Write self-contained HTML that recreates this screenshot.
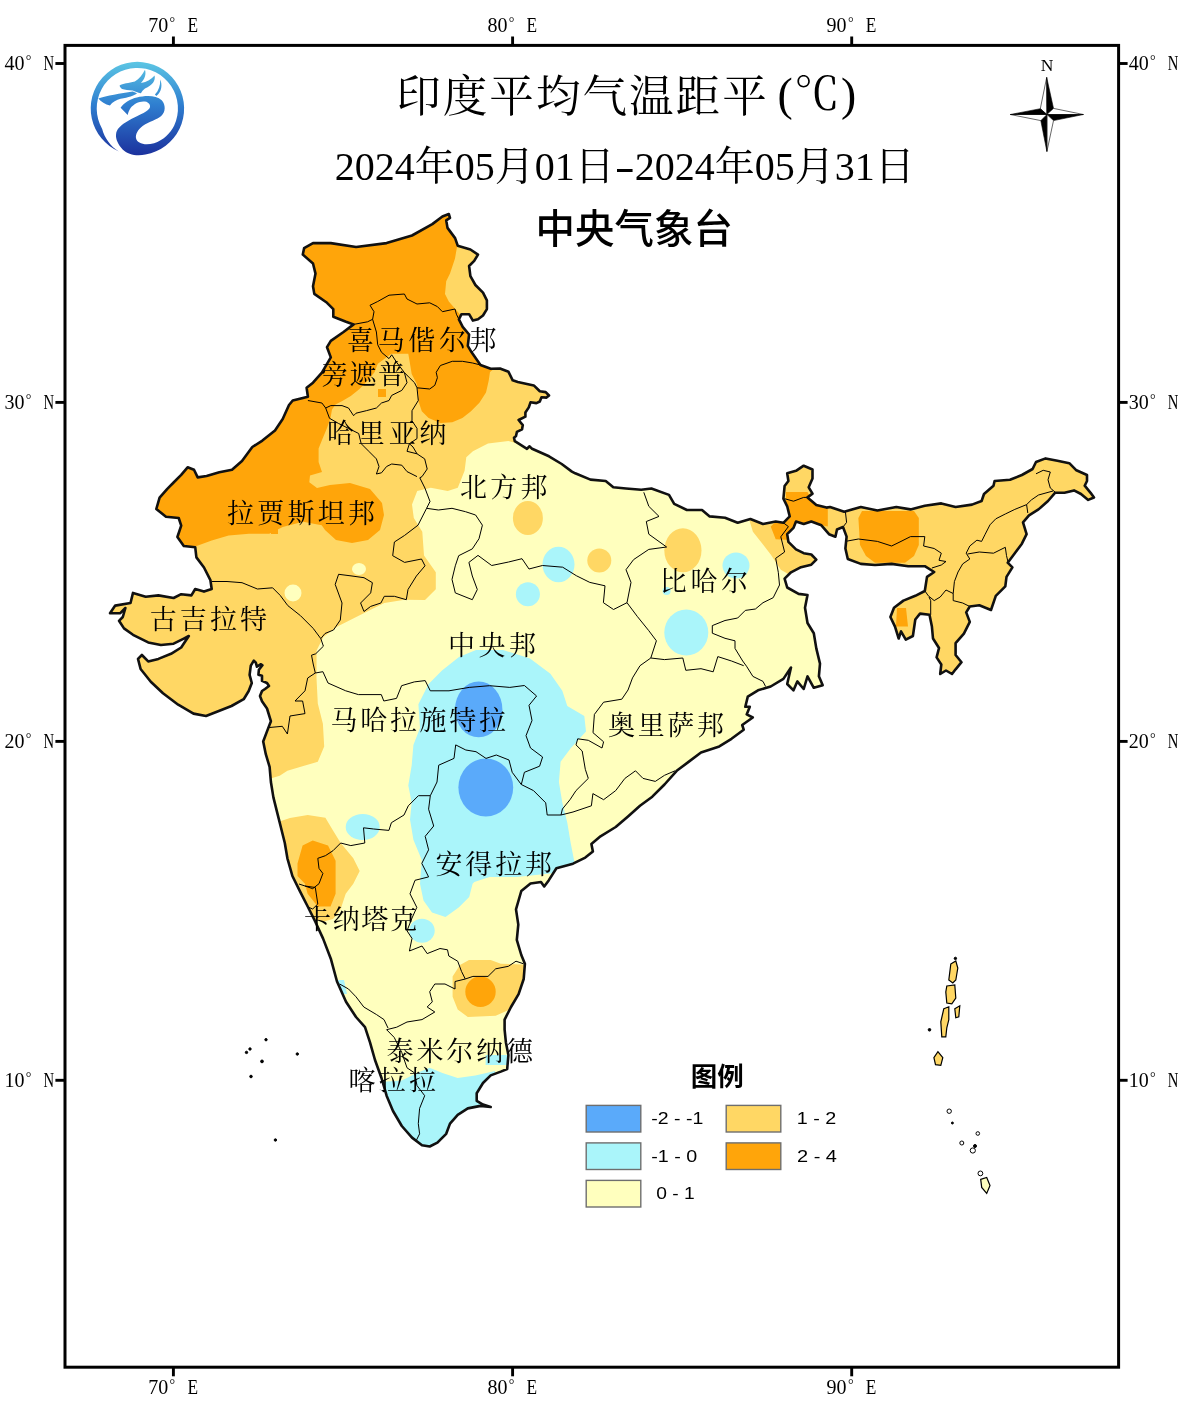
<!DOCTYPE html>
<html lang="zh"><head><meta charset="utf-8"><title>印度平均气温距平</title>
<style>html,body{margin:0;padding:0;background:#fff}svg{display:block}text{white-space:pre}</style></head><body>
<svg width="1182" height="1404" viewBox="0 0 1182 1404">
<rect width="1182" height="1404" fill="#fff"/>
<defs><clipPath id="ind"><path d="M448.8 214.0 L450.0 217.8 L446.2 220.3 L447.5 227.9 L455.1 238.1 L457.7 245.7 L470.4 249.5 L478.0 254.6 L474.2 260.9 L469.1 266.0 L470.4 276.1 L475.4 285.0 L483.0 292.6 L486.9 300.3 L486.9 309.1 L483.0 315.5 L478.0 319.3 L472.9 320.6 L469.1 314.2 L461.5 314.2 L458.9 319.3 L462.7 326.9 L469.1 334.5 L467.8 345.9 L471.6 352.3 L480.5 365.0 L490.7 368.8 L500.0 368.5 L508.5 371.8 L512.7 380.3 L517.8 382.0 L533.8 385.4 L539.8 391.3 L545.7 392.1 L549.0 395.5 L546.5 397.6 L541.5 397.2 L539.8 401.5 L536.4 403.1 L530.5 402.3 L528.8 407.4 L525.4 412.5 L525.4 416.7 L518.6 420.0 L522.8 425.1 L522.0 429.4 L516.9 431.9 L516.0 436.1 L514.0 437.8 L514.8 441.2 L527.0 448.8 L529.6 446.3 L532.1 448.8 L549.0 456.3 L561.7 464.0 L571.9 471.6 L575.2 473.3 L590.5 479.6 L605.7 481.0 L613.3 487.3 L626.0 488.5 L641.2 489.8 L651.4 488.5 L669.0 494.9 L674.2 503.8 L686.9 510.0 L702.0 510.0 L709.7 516.4 L725.0 517.7 L737.7 522.8 L750.4 519.0 L763.0 524.0 L775.7 521.5 L783.4 522.8 L789.7 516.4 L787.2 506.3 L783.4 498.7 L784.6 486.0 L788.4 481.0 L787.2 473.3 L796.0 470.8 L803.7 465.7 L812.5 469.5 L812.5 478.4 L808.7 487.3 L812.5 493.6 L807.5 497.4 L816.3 505.0 L826.5 507.6 L830.0 507.0 L844.2 511.7 L860.8 507.0 L877.4 510.5 L896.3 507.0 L910.5 509.4 L924.8 505.8 L941.3 503.4 L955.6 507.0 L972.0 504.6 L981.6 501.0 L984.0 494.0 L993.5 485.7 L994.6 481.0 L1010.0 479.8 L1021.9 475.0 L1032.6 469.0 L1036.0 462.0 L1045.6 458.4 L1057.4 460.8 L1069.3 463.2 L1076.4 470.3 L1087.0 475.0 L1087.0 481.0 L1084.7 485.7 L1090.6 492.8 L1094.0 497.5 L1088.2 499.9 L1081.0 494.0 L1074.0 490.4 L1064.5 492.8 L1055.0 492.8 L1048.0 501.0 L1038.5 509.4 L1029.0 515.3 L1023.0 522.4 L1026.6 534.2 L1021.9 543.7 L1014.8 553.2 L1007.7 562.7 L1012.4 567.4 L1006.5 576.9 L1005.3 586.4 L995.8 595.8 L991.0 610.0 L979.3 605.3 L969.8 606.5 L966.2 612.4 L969.8 621.9 L963.9 633.7 L955.6 643.2 L955.6 655.0 L961.5 662.2 L955.6 669.3 L952.0 674.0 L946.0 670.5 L940.2 674.0 L941.3 664.5 L936.6 657.4 L939.0 648.0 L933.0 638.5 L931.9 626.6 L929.5 614.8 L920.0 613.6 L915.3 619.5 L912.9 636.0 L905.8 639.7 L901.0 631.4 L898.7 638.5 L895.0 626.6 L890.4 617.0 L894.0 607.7 L903.4 600.6 L915.3 595.8 L924.8 591.0 L927.0 576.9 L934.2 572.0 L924.8 566.2 L908.2 566.2 L891.6 563.9 L875.0 565.0 L860.8 563.9 L847.8 559.0 L845.4 548.5 L846.6 536.6 L843.0 527.0 L837.0 529.5 L835.4 536.8 L829.0 534.2 L821.4 525.3 L811.3 521.5 L803.7 524.0 L796.0 521.5 L793.5 527.9 L787.2 534.2 L788.4 541.8 L796.0 549.4 L803.7 553.2 L811.3 554.5 L816.3 559.6 L811.3 564.7 L801.0 567.2 L791.0 572.3 L784.6 578.6 L787.2 587.5 L798.6 593.9 L807.5 595.0 L805.0 607.8 L807.5 623.0 L813.8 633.2 L816.3 648.4 L820.0 663.6 L818.9 676.3 L822.7 685.2 L813.8 687.8 L807.5 676.3 L803.7 689.0 L797.3 681.4 L793.5 690.3 L787.2 684.0 L791.0 667.5 L783.4 678.9 L770.7 686.5 L758.0 690.3 L747.8 696.6 L745.3 706.8 L749.8 706.8 L746.7 714.4 L752.8 717.5 L742.2 725.0 L743.7 729.7 L731.5 738.8 L719.3 746.4 L701.0 752.5 L688.9 761.6 L676.7 770.8 L664.5 784.5 L652.3 796.7 L640.0 805.8 L628.0 816.5 L615.7 827.0 L600.5 836.3 L591.4 843.9 L592.9 851.5 L585.3 857.6 L573.0 863.7 L556.4 868.2 L548.7 880.4 L544.2 886.5 L541.0 882.0 L530.5 883.5 L521.3 891.0 L516.0 909.4 L518.3 924.6 L516.8 939.8 L521.3 955.0 L524.9 963.8 L523.7 979.0 L518.6 994.2 L511.0 1007.0 L504.6 1019.6 L504.6 1029.7 L505.9 1042.4 L508.4 1055.0 L507.2 1069.0 L500.8 1071.6 L490.7 1075.4 L483.0 1083.0 L476.7 1093.2 L476.7 1100.8 L483.0 1104.6 L490.7 1107.0 L480.5 1105.9 L467.8 1108.4 L457.7 1114.8 L450.0 1123.6 L446.2 1133.8 L437.4 1142.7 L429.7 1146.5 L422.0 1145.2 L412.0 1137.6 L401.8 1126.0 L393.0 1111.0 L386.6 1095.7 L381.5 1078.0 L375.0 1060.0 L370.0 1042.4 L365.0 1027.2 L356.0 1017.0 L346.0 1001.8 L337.0 981.5 L330.8 958.7 L323.0 938.4 L315.3 921.7 L307.7 906.5 L300.0 891.3 L292.4 876.0 L287.4 858.3 L284.8 843.0 L281.0 827.8 L277.2 812.6 L273.4 797.4 L270.9 782.0 L269.6 766.9 L265.8 754.2 L263.2 741.5 L267.0 731.4 L270.9 721.2 L267.0 708.5 L262.0 701.2 L260.0 696.0 L262.0 691.0 L265.0 689.0 L269.0 686.0 L267.0 683.0 L262.0 680.9 L262.0 675.8 L258.4 674.8 L258.9 669.7 L262.4 665.2 L261.0 664.2 L256.9 666.7 L255.8 662.6 L253.8 660.6 L250.8 665.7 L249.6 674.8 L251.8 683.0 L248.7 691.0 L243.7 699.2 L231.5 706.0 L218.8 711.0 L206.0 716.0 L193.5 713.6 L178.2 704.7 L163.0 693.3 L150.8 681.7 L140.6 669.0 L138.0 658.9 L141.9 655.0 L148.2 661.4 L158.4 658.9 L171.0 653.8 L181.2 647.5 L188.8 636.0 L183.8 638.6 L173.6 643.7 L160.9 645.0 L148.2 642.4 L133.0 634.8 L124.0 628.4 L119.0 620.8 L122.8 617.0 L125.4 608.0 L120.3 613.2 L110.0 613.2 L115.2 605.6 L130.5 603.0 L133.0 592.9 L145.7 596.7 L158.4 595.4 L173.6 598.0 L181.2 594.2 L191.4 595.4 L195.2 589.0 L204.0 591.6 L211.7 589.0 L210.4 580.2 L204.0 567.5 L196.4 557.4 L195.2 547.2 L183.8 546.0 L177.4 537.0 L181.2 525.6 L178.7 518.0 L166.0 516.8 L156.3 509.0 L159.6 497.7 L167.3 488.8 L173.6 482.5 L181.2 474.9 L187.6 467.3 L194.0 469.8 L197.7 477.4 L206.6 476.0 L219.3 472.3 L232.0 469.8 L242.0 461.0 L252.3 447.0 L262.4 440.6 L275.0 430.5 L282.7 419.0 L289.0 405.0 L292.7 400.5 L307.9 396.7 L306.6 387.8 L313.0 382.7 L321.9 372.6 L330.8 357.4 L327.0 347.2 L330.8 340.9 L343.5 332.0 L353.6 324.4 L346.0 321.8 L333.3 316.8 L333.3 309.1 L327.0 302.8 L314.3 293.9 L313.0 286.3 L315.5 273.6 L313.0 263.5 L302.8 254.6 L304.1 248.2 L313.0 243.1 L330.8 243.1 L356.1 247.0 L386.6 243.1 L412.0 235.5 L432.3 224.1 L442.4 216.5Z"/>
<path d="M950.8 964.0 L955.8 961.0 L957.8 968.0 L955.8 980.0 L952.8 983.0 L948.8 980.0Z"/>
<path d="M946.8 986.0 L954.8 985.0 L955.8 998.0 L951.8 1003.8 L946.8 1003.0 L945.8 992.0Z"/>
<path d="M943.8 1008.8 L948.8 1006.8 L948.8 1019.8 L946.8 1027.8 L945.8 1036.8 L941.8 1036.8 L940.8 1021.8Z"/>
<path d="M954.8 1008.8 L959.8 1005.8 L958.8 1016.8 L955.8 1017.8Z"/>
<path d="M937.9 1051.7 L942.8 1057.7 L940.8 1065.3 L935.5 1064.7 L933.9 1057.7Z"/>
<path d="M980.7 1179.4 L986.7 1177.4 L990.0 1185.4 L986.7 1193.4 L981.7 1187.4Z"/>
</clipPath>
<linearGradient id="lg" gradientUnits="userSpaceOnUse" x1="0" y1="115" x2="0" y2="1050"><stop offset="0" stop-color="#5cc6e4"/><stop offset="0.45" stop-color="#2f7fd0"/><stop offset="1" stop-color="#1b2f9c"/></linearGradient>
</defs>
<g clip-path="url(#ind)">
<rect x="100" y="200" width="1010" height="1010" fill="#ffffbe"/>
<path d="M560.0 420.0 L517.3 443.6 L508.4 441.0 L488.0 443.6 L472.9 451.3 L466.3 457.2 L464.6 470.8 L457.8 487.7 L447.7 491.0 L430.8 487.7 L417.2 491.0 L412.0 504.6 L413.8 518.0 L422.3 531.7 L424.0 555.4 L435.8 572.3 L435.8 589.2 L425.0 600.0 L404.6 599.7 L384.3 603.0 L370.7 609.8 L357.2 616.6 L336.9 626.7 L323.4 636.9 L316.6 650.4 L316.5 678.0 L317.8 703.5 L322.9 723.8 L324.2 746.6 L317.8 761.8 L305.0 765.6 L287.4 770.7 L279.7 775.8 L265.0 780.0 L100.0 780.0 L100.0 200.0 L560.0 200.0Z" fill="#ffd764"/>
<path d="M275.0 823.0 L290.0 818.0 L307.7 815.0 L325.4 817.7 L333.0 830.4 L340.7 843.0 L353.3 858.3 L359.7 871.0 L353.3 883.7 L345.7 893.8 L340.7 909.0 L333.0 919.0 L322.9 921.7 L300.0 915.0 L270.0 830.0Z" fill="#ffd764"/>
<path d="M469.0 960.0 L490.7 960.0 L500.8 963.8 L535.0 965.0 L535.0 1005.0 L509.7 1009.4 L495.7 1015.8 L467.8 1017.0 L457.7 1009.4 L452.6 996.8 L452.6 976.4 L460.0 965.0Z" fill="#ffd764"/>
<path d="M747.8 515.0 L752.9 531.7 L763.0 544.4 L770.7 554.5 L775.7 562.0 L780.8 569.7 L790.0 575.0 L800.0 590.0 L840.0 590.0 L840.0 700.0 L1110.0 700.0 L1110.0 440.0 L780.0 440.0Z" fill="#ffd764"/>
<ellipse cx="527.9" cy="518.0" rx="15.0" ry="17.0" fill="#ffd764"/>
<ellipse cx="599.3" cy="560.4" rx="12.0" ry="12.0" fill="#ffd764"/>
<ellipse cx="682.9" cy="550.3" rx="18.6" ry="22.0" fill="#ffd764"/>
<ellipse cx="293.0" cy="593.0" rx="8.5" ry="8.5" fill="#ffffbe"/>
<ellipse cx="359.0" cy="569.0" rx="7.0" ry="6.0" fill="#ffffbe"/>
<path d="M457.7 243.0 L455.0 258.4 L450.0 273.6 L446.2 281.2 L445.0 293.9 L448.8 301.5 L457.7 311.7 L461.5 316.8 L480.0 335.0 L505.0 360.0 L490.0 372.0 L488.7 380.8 L486.0 392.6 L479.4 402.8 L471.0 411.2 L462.4 418.0 L452.3 422.2 L440.4 423.0 L428.6 418.0 L421.8 411.2 L418.4 401.0 L418.4 394.3 L416.8 384.0 L411.7 374.0 L410.0 363.8 L408.3 353.7 L391.4 353.7 L384.6 358.8 L377.8 363.8 L374.5 372.3 L367.7 380.8 L359.2 389.2 L350.8 396.0 L342.3 401.0 L335.5 404.5 L332.0 409.5 L330.5 418.0 L327.0 428.0 L322.0 440.0 L318.6 448.4 L318.6 462.0 L322.0 472.0 L310.0 475.5 L309.3 482.3 L317.0 488.0 L330.0 485.0 L350.0 483.0 L370.0 489.0 L382.0 503.0 L384.0 515.0 L380.0 530.0 L368.0 540.0 L352.0 543.0 L336.0 540.0 L325.0 530.0 L321.7 525.2 L303.0 521.8 L282.7 527.0 L269.2 533.7 L249.0 533.7 L228.6 535.4 L211.7 540.4 L198.0 545.5 L150.0 560.0 L130.0 480.0 L250.0 380.0 L280.0 230.0 L450.0 200.0Z" fill="#ffa50a"/>
<path d="M378.0 389.0 L386.0 389.0 L386.0 397.0 L378.0 397.0Z" fill="#ffa50a"/>
<path d="M271.0 527.0 L278.0 527.0 L278.0 534.0 L271.0 534.0Z" fill="#ffa50a"/>
<path d="M302.6 845.6 L312.7 840.5 L328.0 845.6 L335.6 860.8 L335.6 893.8 L330.5 906.5 L317.8 906.5 L307.6 893.8 L305.0 883.7 L297.5 876.0 L297.5 863.4Z" fill="#ffa50a"/>
<path d="M786.0 492.0 L807.5 492.0 L813.8 503.8 L827.8 508.8 L827.8 526.6 L811.0 523.0 L800.0 526.0 L790.0 540.0 L775.7 539.3 L770.7 526.6 L780.0 518.0 L786.0 510.0Z" fill="#ffa50a"/>
<path d="M862.0 511.0 L914.0 511.0 L918.8 518.0 L918.8 545.0 L914.0 556.0 L905.0 562.7 L875.0 562.7 L866.0 556.0 L860.0 545.0 L858.4 518.0Z" fill="#ffa50a"/>
<path d="M897.0 608.0 L906.0 608.0 L908.0 626.6 L896.0 626.6Z" fill="#ffa50a"/>
<ellipse cx="480.5" cy="991.7" rx="15.2" ry="15.2" fill="#ffa50a"/>
<path d="M476.0 650.0 L503.0 650.0 L530.0 658.6 L550.4 673.8 L562.3 690.8 L567.3 706.0 L584.3 716.0 L586.0 731.4 L570.7 748.3 L560.6 761.8 L558.9 782.0 L562.3 802.4 L567.3 822.7 L570.7 843.0 L574.0 860.0 L575.0 870.0 L550.4 873.5 L516.6 876.9 L489.5 876.9 L474.3 882.0 L472.6 883.7 L469.2 897.0 L459.0 907.3 L445.5 917.0 L432.0 912.4 L423.5 900.6 L420.0 883.7 L421.8 860.0 L413.4 839.7 L410.0 819.4 L411.7 802.4 L408.3 785.5 L411.7 765.2 L413.4 744.9 L420.0 728.0 L418.4 704.3 L428.6 684.0 L442.0 670.5 L459.0 657.0Z" fill="#aaf5fa"/>
<path d="M380.0 1082.0 L401.8 1080.5 L417.0 1072.9 L429.7 1067.8 L442.4 1072.9 L457.7 1078.0 L475.4 1075.4 L495.0 1071.0 L500.0 1160.0 L380.0 1160.0Z" fill="#aaf5fa"/>
<path d="M485.6 1055.0 L510.0 1055.0 L510.0 1065.0 L485.6 1065.0Z" fill="#aaf5fa"/>
<path d="M336.0 980.0 L344.0 980.0 L347.0 994.0 L338.0 994.0Z" fill="#aaf5fa"/>
<ellipse cx="558.5" cy="564.5" rx="16.0" ry="17.8" fill="#aaf5fa"/>
<ellipse cx="527.9" cy="594.3" rx="12.0" ry="12.0" fill="#aaf5fa"/>
<ellipse cx="736.0" cy="565.5" rx="13.5" ry="13.0" fill="#aaf5fa"/>
<ellipse cx="686.3" cy="632.5" rx="22.0" ry="23.0" fill="#aaf5fa"/>
<ellipse cx="666.6" cy="591.0" rx="4.0" ry="4.0" fill="#aaf5fa"/>
<ellipse cx="362.7" cy="827.0" rx="17.0" ry="13.0" fill="#aaf5fa"/>
<ellipse cx="422.0" cy="930.8" rx="12.7" ry="12.0" fill="#aaf5fa"/>
<ellipse cx="478.7" cy="709.4" rx="23.7" ry="27.9" fill="#5aaafa"/>
<ellipse cx="485.8" cy="787.5" rx="27.4" ry="29.0" fill="#5aaafa"/>
</g>
<g fill="none" stroke="#000" stroke-width="1" stroke-linejoin="round">
<path d="M353.6 324.4 L367.6 321.8 L372.6 319.3 L374.0 311.7 L370.0 305.3 L377.7 301.5 L389.0 295.2 L404.4 294.0 L407.0 299.0 L417.0 304.0 L429.7 302.8 L437.4 306.6 L442.4 311.7 L455.0 309.0 L456.4 314.2 L458.9 319.3"/>
<path d="M372.6 319.3 L376.4 332.0 L377.7 344.7 L381.5 352.3 L389.0 358.6 L391.7 354.8 L396.7 362.4 L404.4 372.6 L409.4 377.7 L414.5 382.7 L417.0 387.8 L429.7 389.0 L434.8 385.3 L437.4 377.7 L436.2 372.3 L440.4 365.5 L452.3 361.3 L462.4 361.3 L472.6 363.0 L480.5 365.0"/>
<path d="M404.4 372.6 L407.0 382.7 L401.8 390.4 L391.7 395.4 L389.0 400.5 L381.5 403.0 L376.4 408.0 L366.3 410.7 L356.0 413.2 L353.6 415.7 L348.5 408.0 L342.0 405.6 L330.8 405.6 L325.7 408.0 L321.9 403.0 L307.9 400.5"/>
<path d="M325.7 408.0 L329.5 418.3 L338.4 423.4 L348.5 428.4 L358.7 433.5 L361.2 443.7 L368.8 451.3 L376.4 458.9 L379.0 466.5 L376.4 474.0 L381.5 472.8 L386.6 466.5 L391.7 464.0 L401.8 465.2 L407.0 471.6 L417.0 476.6"/>
<path d="M417.0 387.8 L418.3 400.5 L412.0 410.7 L412.0 420.8 L417.0 428.4 L417.0 438.6 L409.4 443.7 L407.0 451.3 L417.0 453.8 L424.7 458.9 L427.2 469.0 L422.0 476.6 L419.8 477.8 L424.9 488.0 L430.0 501.5 L426.6 508.3 L438.4 510.0 L452.0 508.3 L465.5 511.7 L475.6 515.0 L482.4 525.2 L479.0 538.7 L472.3 548.9 L458.7 555.7 L455.3 565.8 L452.0 579.4 L455.3 592.9 L472.3 599.7 L477.3 589.5 L472.3 576.0 L468.9 562.4 L478.0 555.4 L491.7 565.5 L508.6 562.0 L522.0 558.7 L529.0 569.0 L542.4 565.5 L562.7 567.2 L576.3 575.7 L589.8 582.4 L605.0 585.8 L603.4 602.7 L613.5 609.5 L627.0 602.7"/>
<path d="M409.4 443.7 L413.0 447.0 L417.0 453.8"/>
<path d="M426.6 508.3 L418.0 525.2 L404.6 535.4 L394.4 542.0 L392.7 555.7 L404.6 562.4 L421.5 559.0 L425.0 565.8 L416.4 576.0 L408.0 589.5 L406.3 599.7 L394.4 596.3 L384.3 596.3 L380.9 603.0 L370.7 606.4 L364.0 611.5 L360.6 603.0 L370.7 592.9 L372.4 582.7 L364.0 577.7 L352.0 576.0 L338.6 574.3 L335.2 584.4 L342.0 603.0 L340.3 620.0 L333.5 630.0 L325.0 633.5 L320.8 638.6"/>
<path d="M211.7 581.5 L227.0 581.5 L242.0 582.7 L257.4 589.0 L272.6 587.8 L280.2 595.4 L287.8 605.6 L300.5 615.7 L313.2 628.4 L320.8 638.6"/>
<path d="M320.8 638.6 L323.4 646.2 L315.7 653.8 L311.5 655.2 L313.2 664.0 L315.3 673.0 L307.7 678.0 L305.0 690.8 L295.0 701.0 L302.6 701.0 L305.0 713.6 L290.0 716.0 L287.4 734.0 L282.3 726.3 L268.3 727.6"/>
<path d="M315.3 673.0 L322.9 671.7 L328.0 683.0 L345.7 690.8 L358.4 694.6 L381.3 694.6 L383.8 701.0 L396.5 698.4 L401.6 685.7 L414.3 681.9 L425.2 680.6 L430.3 690.8 L449.0 690.8 L469.2 687.4 L489.5 685.7 L509.8 687.4 L524.4 685.5 L536.6 696.0 L529.0 705.3 L532.0 720.5 L526.0 735.7 L530.5 748.0 L542.6 757.0 L539.6 766.2 L524.4 772.3 L521.3 784.5"/>
<path d="M521.3 784.5 L512.2 772.3 L509.0 760.0 L496.3 755.0 L486.0 758.4 L476.0 751.7 L465.8 750.0 L455.7 744.9 L454.0 758.4 L438.7 765.2 L437.0 782.0 L430.3 795.7 L418.4 795.7 L408.3 805.8 L404.0 815.0 L391.4 822.7 L388.9 830.4 L373.7 829.0 L363.5 827.8 L364.8 843.0 L350.8 845.6 L340.7 843.0 L333.0 850.7 L325.4 855.7 L317.8 858.3 L319.0 868.4 L322.9 873.5 L319.0 883.7 L312.7 888.7 L305.0 886.0 L299.0 884.0"/>
<path d="M305.0 886.0 L315.3 887.5 L317.8 904.0 L312.7 909.0 L308.0 907.0"/>
<path d="M521.3 784.5 L533.5 790.6 L545.7 802.8 L547.2 815.0 L561.0 815.0"/>
<path d="M561.0 815.0 L562.4 809.0 L570.0 799.7 L576.0 790.6 L588.3 778.4 L585.3 769.3 L582.2 751.0 L576.0 744.9 L577.7 738.8 L588.3 740.3 L602.0 748.0 L603.6 741.8 L593.0 732.7 L594.4 714.4 L603.6 702.2 L621.8 699.2 L628.0 690.0 L632.5 677.9 L640.0 665.7 L650.8 658.0"/>
<path d="M561.0 815.0 L573.0 812.0 L591.4 805.8 L592.9 793.6 L603.6 799.7 L615.7 790.6 L624.9 778.4 L635.5 770.8 L643.0 778.4 L655.3 781.4 L664.5 775.3 L675.0 770.8"/>
<path d="M627.0 602.7 L637.2 616.3 L648.8 630.7 L656.4 640.8 L650.8 658.0"/>
<path d="M643.8 492.3 L648.8 506.3 L659.0 516.4 L646.3 521.5 L648.8 534.2 L666.6 547.0 L648.8 549.4 L633.6 559.6 L626.0 569.7 L631.0 582.4 L627.0 602.7"/>
<path d="M650.8 658.0 L664.5 659.6 L682.8 658.0 L685.8 670.3 L701.0 668.7 L713.2 671.8 L717.8 656.6 L731.5 661.0 L743.7 665.7"/>
<path d="M783.4 522.8 L788.4 526.6 L780.8 536.8 L784.6 552.0 L775.7 558.3 L778.3 572.3 L779.5 585.0 L773.2 597.7 L763.0 602.7 L755.4 609.0 L745.3 610.4 L737.7 618.0 L725.0 620.5 L712.3 625.6 L712.3 633.2 L725.0 638.3 L735.0 640.8 L735.0 648.4 L742.7 661.0 L746.5 666.2 L752.9 676.4 L763.0 681.4 L765.6 686.5"/>
<path d="M430.3 795.7 L428.6 809.2 L433.7 826.0 L425.2 836.3 L428.6 849.8 L421.8 863.4 L428.6 876.9 L415.0 880.3 L410.0 893.8 L416.8 907.4 L412.0 918.0 L407.0 930.8 L412.0 938.4 L409.4 951.0 L422.0 946.0 L427.2 953.6 L440.0 948.5 L447.5 949.8 L448.8 956.0 L457.7 961.2 L461.5 971.4 L465.3 979.0"/>
<path d="M465.3 979.0 L455.0 981.5 L455.0 989.0 L445.0 984.0 L434.8 984.0 L429.7 991.7 L432.3 1001.8 L427.2 1007.0 L434.8 1012.0 L422.0 1019.6 L407.0 1022.0 L396.7 1027.2 L386.6 1029.7"/>
<path d="M465.3 979.0 L472.9 976.4 L488.0 976.4 L495.7 968.8 L508.4 966.3 L516.0 961.2 L523.5 963.8"/>
<path d="M339.6 984.0 L348.5 989.0 L356.0 996.8 L363.8 1007.0 L376.4 1014.5 L384.0 1019.6 L388.0 1028.0"/>
<path d="M386.6 1029.7 L394.2 1037.4 L401.8 1052.6 L407.0 1067.8 L414.5 1072.9 L417.0 1085.6 L424.7 1095.7 L419.6 1108.4 L418.3 1123.6 L419.6 1133.8 L415.8 1141.4"/>
<path d="M784.6 498.7 L793.5 501.2 L803.7 497.4 L807.5 497.4"/>
<path d="M845.4 511.7 L846.6 522.4 L843.0 527.0"/>
<path d="M845.4 541.4 L858.4 539.0 L868.0 540.2 L877.4 541.4 L891.6 546.0 L901.0 541.4 L910.5 536.6 L924.8 536.6 L923.6 546.0 L934.2 548.5 L941.3 553.2 L939.0 560.3 L946.0 561.5 L941.3 565.0 L931.9 568.0"/>
<path d="M1036.0 473.8 L1043.2 470.3 L1050.3 472.0 L1048.0 479.8 L1050.3 488.0 L1055.0 492.0"/>
<path d="M1053.0 491.0 L1038.5 495.0 L1031.4 499.9 L1026.6 504.6 L1027.8 513.0"/>
<path d="M1026.6 504.6 L1014.8 509.4 L1005.3 514.0 L995.8 518.8 L990.0 524.8 L985.2 534.2 L981.6 541.4 L976.9 540.2 L969.8 546.0 L966.2 553.2 L969.8 559.0 L962.7 563.9 L958.0 572.0 L954.4 581.6 L953.2 593.5 L946.0 590.0 L940.2 597.0 L934.2 600.6 L928.3 595.8 L925.0 591.0"/>
<path d="M967.5 554.0 L979.3 552.0 L993.5 553.2 L1005.3 547.3 L1006.5 555.6 L1008.0 562.0"/>
<path d="M953.2 593.5 L953.2 600.6 L962.7 603.0 L969.8 606.5"/>
<path d="M929.0 597.0 L930.7 600.6 L930.7 614.8"/>
</g>
<path d="M448.8 214.0 L450.0 217.8 L446.2 220.3 L447.5 227.9 L455.1 238.1 L457.7 245.7 L470.4 249.5 L478.0 254.6 L474.2 260.9 L469.1 266.0 L470.4 276.1 L475.4 285.0 L483.0 292.6 L486.9 300.3 L486.9 309.1 L483.0 315.5 L478.0 319.3 L472.9 320.6 L469.1 314.2 L461.5 314.2 L458.9 319.3 L462.7 326.9 L469.1 334.5 L467.8 345.9 L471.6 352.3 L480.5 365.0 L490.7 368.8 L500.0 368.5 L508.5 371.8 L512.7 380.3 L517.8 382.0 L533.8 385.4 L539.8 391.3 L545.7 392.1 L549.0 395.5 L546.5 397.6 L541.5 397.2 L539.8 401.5 L536.4 403.1 L530.5 402.3 L528.8 407.4 L525.4 412.5 L525.4 416.7 L518.6 420.0 L522.8 425.1 L522.0 429.4 L516.9 431.9 L516.0 436.1 L514.0 437.8 L514.8 441.2 L527.0 448.8 L529.6 446.3 L532.1 448.8 L549.0 456.3 L561.7 464.0 L571.9 471.6 L575.2 473.3 L590.5 479.6 L605.7 481.0 L613.3 487.3 L626.0 488.5 L641.2 489.8 L651.4 488.5 L669.0 494.9 L674.2 503.8 L686.9 510.0 L702.0 510.0 L709.7 516.4 L725.0 517.7 L737.7 522.8 L750.4 519.0 L763.0 524.0 L775.7 521.5 L783.4 522.8 L789.7 516.4 L787.2 506.3 L783.4 498.7 L784.6 486.0 L788.4 481.0 L787.2 473.3 L796.0 470.8 L803.7 465.7 L812.5 469.5 L812.5 478.4 L808.7 487.3 L812.5 493.6 L807.5 497.4 L816.3 505.0 L826.5 507.6 L830.0 507.0 L844.2 511.7 L860.8 507.0 L877.4 510.5 L896.3 507.0 L910.5 509.4 L924.8 505.8 L941.3 503.4 L955.6 507.0 L972.0 504.6 L981.6 501.0 L984.0 494.0 L993.5 485.7 L994.6 481.0 L1010.0 479.8 L1021.9 475.0 L1032.6 469.0 L1036.0 462.0 L1045.6 458.4 L1057.4 460.8 L1069.3 463.2 L1076.4 470.3 L1087.0 475.0 L1087.0 481.0 L1084.7 485.7 L1090.6 492.8 L1094.0 497.5 L1088.2 499.9 L1081.0 494.0 L1074.0 490.4 L1064.5 492.8 L1055.0 492.8 L1048.0 501.0 L1038.5 509.4 L1029.0 515.3 L1023.0 522.4 L1026.6 534.2 L1021.9 543.7 L1014.8 553.2 L1007.7 562.7 L1012.4 567.4 L1006.5 576.9 L1005.3 586.4 L995.8 595.8 L991.0 610.0 L979.3 605.3 L969.8 606.5 L966.2 612.4 L969.8 621.9 L963.9 633.7 L955.6 643.2 L955.6 655.0 L961.5 662.2 L955.6 669.3 L952.0 674.0 L946.0 670.5 L940.2 674.0 L941.3 664.5 L936.6 657.4 L939.0 648.0 L933.0 638.5 L931.9 626.6 L929.5 614.8 L920.0 613.6 L915.3 619.5 L912.9 636.0 L905.8 639.7 L901.0 631.4 L898.7 638.5 L895.0 626.6 L890.4 617.0 L894.0 607.7 L903.4 600.6 L915.3 595.8 L924.8 591.0 L927.0 576.9 L934.2 572.0 L924.8 566.2 L908.2 566.2 L891.6 563.9 L875.0 565.0 L860.8 563.9 L847.8 559.0 L845.4 548.5 L846.6 536.6 L843.0 527.0 L837.0 529.5 L835.4 536.8 L829.0 534.2 L821.4 525.3 L811.3 521.5 L803.7 524.0 L796.0 521.5 L793.5 527.9 L787.2 534.2 L788.4 541.8 L796.0 549.4 L803.7 553.2 L811.3 554.5 L816.3 559.6 L811.3 564.7 L801.0 567.2 L791.0 572.3 L784.6 578.6 L787.2 587.5 L798.6 593.9 L807.5 595.0 L805.0 607.8 L807.5 623.0 L813.8 633.2 L816.3 648.4 L820.0 663.6 L818.9 676.3 L822.7 685.2 L813.8 687.8 L807.5 676.3 L803.7 689.0 L797.3 681.4 L793.5 690.3 L787.2 684.0 L791.0 667.5 L783.4 678.9 L770.7 686.5 L758.0 690.3 L747.8 696.6 L745.3 706.8 L749.8 706.8 L746.7 714.4 L752.8 717.5 L742.2 725.0 L743.7 729.7 L731.5 738.8 L719.3 746.4 L701.0 752.5 L688.9 761.6 L676.7 770.8 L664.5 784.5 L652.3 796.7 L640.0 805.8 L628.0 816.5 L615.7 827.0 L600.5 836.3 L591.4 843.9 L592.9 851.5 L585.3 857.6 L573.0 863.7 L556.4 868.2 L548.7 880.4 L544.2 886.5 L541.0 882.0 L530.5 883.5 L521.3 891.0 L516.0 909.4 L518.3 924.6 L516.8 939.8 L521.3 955.0 L524.9 963.8 L523.7 979.0 L518.6 994.2 L511.0 1007.0 L504.6 1019.6 L504.6 1029.7 L505.9 1042.4 L508.4 1055.0 L507.2 1069.0 L500.8 1071.6 L490.7 1075.4 L483.0 1083.0 L476.7 1093.2 L476.7 1100.8 L483.0 1104.6 L490.7 1107.0 L480.5 1105.9 L467.8 1108.4 L457.7 1114.8 L450.0 1123.6 L446.2 1133.8 L437.4 1142.7 L429.7 1146.5 L422.0 1145.2 L412.0 1137.6 L401.8 1126.0 L393.0 1111.0 L386.6 1095.7 L381.5 1078.0 L375.0 1060.0 L370.0 1042.4 L365.0 1027.2 L356.0 1017.0 L346.0 1001.8 L337.0 981.5 L330.8 958.7 L323.0 938.4 L315.3 921.7 L307.7 906.5 L300.0 891.3 L292.4 876.0 L287.4 858.3 L284.8 843.0 L281.0 827.8 L277.2 812.6 L273.4 797.4 L270.9 782.0 L269.6 766.9 L265.8 754.2 L263.2 741.5 L267.0 731.4 L270.9 721.2 L267.0 708.5 L262.0 701.2 L260.0 696.0 L262.0 691.0 L265.0 689.0 L269.0 686.0 L267.0 683.0 L262.0 680.9 L262.0 675.8 L258.4 674.8 L258.9 669.7 L262.4 665.2 L261.0 664.2 L256.9 666.7 L255.8 662.6 L253.8 660.6 L250.8 665.7 L249.6 674.8 L251.8 683.0 L248.7 691.0 L243.7 699.2 L231.5 706.0 L218.8 711.0 L206.0 716.0 L193.5 713.6 L178.2 704.7 L163.0 693.3 L150.8 681.7 L140.6 669.0 L138.0 658.9 L141.9 655.0 L148.2 661.4 L158.4 658.9 L171.0 653.8 L181.2 647.5 L188.8 636.0 L183.8 638.6 L173.6 643.7 L160.9 645.0 L148.2 642.4 L133.0 634.8 L124.0 628.4 L119.0 620.8 L122.8 617.0 L125.4 608.0 L120.3 613.2 L110.0 613.2 L115.2 605.6 L130.5 603.0 L133.0 592.9 L145.7 596.7 L158.4 595.4 L173.6 598.0 L181.2 594.2 L191.4 595.4 L195.2 589.0 L204.0 591.6 L211.7 589.0 L210.4 580.2 L204.0 567.5 L196.4 557.4 L195.2 547.2 L183.8 546.0 L177.4 537.0 L181.2 525.6 L178.7 518.0 L166.0 516.8 L156.3 509.0 L159.6 497.7 L167.3 488.8 L173.6 482.5 L181.2 474.9 L187.6 467.3 L194.0 469.8 L197.7 477.4 L206.6 476.0 L219.3 472.3 L232.0 469.8 L242.0 461.0 L252.3 447.0 L262.4 440.6 L275.0 430.5 L282.7 419.0 L289.0 405.0 L292.7 400.5 L307.9 396.7 L306.6 387.8 L313.0 382.7 L321.9 372.6 L330.8 357.4 L327.0 347.2 L330.8 340.9 L343.5 332.0 L353.6 324.4 L346.0 321.8 L333.3 316.8 L333.3 309.1 L327.0 302.8 L314.3 293.9 L313.0 286.3 L315.5 273.6 L313.0 263.5 L302.8 254.6 L304.1 248.2 L313.0 243.1 L330.8 243.1 L356.1 247.0 L386.6 243.1 L412.0 235.5 L432.3 224.1 L442.4 216.5Z" fill="none" stroke="#111" stroke-width="2.6" stroke-linejoin="round"/>
<path d="M950.8 964.0 L955.8 961.0 L957.8 968.0 L955.8 980.0 L952.8 983.0 L948.8 980.0Z" fill="#ffd764" stroke="#000" stroke-width="1.2"/>
<path d="M946.8 986.0 L954.8 985.0 L955.8 998.0 L951.8 1003.8 L946.8 1003.0 L945.8 992.0Z" fill="#ffd764" stroke="#000" stroke-width="1.2"/>
<path d="M943.8 1008.8 L948.8 1006.8 L948.8 1019.8 L946.8 1027.8 L945.8 1036.8 L941.8 1036.8 L940.8 1021.8Z" fill="#ffd764" stroke="#000" stroke-width="1.2"/>
<path d="M954.8 1008.8 L959.8 1005.8 L958.8 1016.8 L955.8 1017.8Z" fill="#ffd764" stroke="#000" stroke-width="1.2"/>
<path d="M937.9 1051.7 L942.8 1057.7 L940.8 1065.3 L935.5 1064.7 L933.9 1057.7Z" fill="#ffd764" stroke="#000" stroke-width="1.2"/>
<path d="M980.7 1179.4 L986.7 1177.4 L990.0 1185.4 L986.7 1193.4 L981.7 1187.4Z" fill="#ffffbe" stroke="#000" stroke-width="1.2"/>
<circle cx="955.4" cy="958.4" r="1.2" fill="#000" stroke="#000" stroke-width="1"/>
<circle cx="929.5" cy="1029.8" r="1.3" fill="#000" stroke="#000" stroke-width="1"/>
<circle cx="949.2" cy="1111.2" r="2.2" fill="#fff" stroke="#000" stroke-width="1"/>
<circle cx="952.4" cy="1123.0" r="1.0" fill="#000" stroke="#000" stroke-width="1"/>
<circle cx="977.8" cy="1133.5" r="1.8" fill="#fff" stroke="#000" stroke-width="1"/>
<circle cx="961.8" cy="1143.0" r="2.0" fill="#fff" stroke="#000" stroke-width="1"/>
<circle cx="972.8" cy="1150.5" r="2.6" fill="#fff" stroke="#000" stroke-width="1"/>
<circle cx="975.0" cy="1146.0" r="1.5" fill="#000" stroke="#000" stroke-width="1"/>
<circle cx="980.4" cy="1173.4" r="2.4" fill="#fff" stroke="#000" stroke-width="1"/>
<circle cx="266.0" cy="1039.7" r="1.2" fill="#000" stroke="#000" stroke-width="1"/>
<circle cx="250.0" cy="1049.0" r="1.2" fill="#000" stroke="#000" stroke-width="1"/>
<circle cx="246.5" cy="1052.4" r="1.2" fill="#000" stroke="#000" stroke-width="1"/>
<circle cx="297.3" cy="1054.0" r="1.2" fill="#000" stroke="#000" stroke-width="1"/>
<circle cx="262.0" cy="1061.4" r="1.4" fill="#000" stroke="#000" stroke-width="1"/>
<circle cx="251.0" cy="1076.5" r="1.3" fill="#000" stroke="#000" stroke-width="1"/>
<circle cx="275.4" cy="1140.0" r="1.2" fill="#000" stroke="#000" stroke-width="1"/>
<g font-family='"Liberation Serif","Noto Serif CJK SC",serif' font-size="27" fill="#000">
<text x="347.0" y="350.0" textLength="149.5" lengthAdjust="spacing">喜马偕尔邦</text>
<text x="321.0" y="384.0" textLength="84.0" lengthAdjust="spacing">旁遮普</text>
<text x="327.0" y="443.0" textLength="119.5" lengthAdjust="spacing">哈里亚纳</text>
<text x="460.0" y="497.0" textLength="87.5" lengthAdjust="spacing">北方邦</text>
<text x="227.0" y="523.0" textLength="148.0" lengthAdjust="spacing">拉贾斯坦邦</text>
<text x="149.8" y="629.0" textLength="117.2" lengthAdjust="spacing">古吉拉特</text>
<text x="659.8" y="590.5" textLength="88.2" lengthAdjust="spacing">比哈尔</text>
<text x="448.0" y="655.0" textLength="88.0" lengthAdjust="spacing">中央邦</text>
<text x="330.5" y="730.0" textLength="175.5" lengthAdjust="spacing">马哈拉施特拉</text>
<text x="608.0" y="734.5" textLength="116.0" lengthAdjust="spacing">奥里萨邦</text>
<text x="435.4" y="874.0" textLength="116.6" lengthAdjust="spacing">安得拉邦</text>
<text x="304.0" y="929.0" textLength="113.0" lengthAdjust="spacing">卡纳塔克</text>
<text x="386.6" y="1061.0" textLength="146.4" lengthAdjust="spacing">泰米尔纳德</text>
<text x="348.5" y="1090.0" textLength="87.5" lengthAdjust="spacing">喀拉拉</text>
</g>
<rect x="65" y="45.4" width="1053.6" height="1321.8" fill="none" stroke="#000" stroke-width="3"/>
<g stroke="#000" stroke-width="2.9">
<line x1="173.4" y1="36.5" x2="173.4" y2="45" />
<line x1="173.4" y1="1367" x2="173.4" y2="1376.3" />
<line x1="512.6" y1="36.5" x2="512.6" y2="45" />
<line x1="512.6" y1="1367" x2="512.6" y2="1376.3" />
<line x1="851.7" y1="36.5" x2="851.7" y2="45" />
<line x1="851.7" y1="1367" x2="851.7" y2="1376.3" />
<line x1="55.4" y1="63.5" x2="65" y2="63.5" />
<line x1="1119" y1="63.5" x2="1127.6" y2="63.5" />
<line x1="55.4" y1="402.4" x2="65" y2="402.4" />
<line x1="1119" y1="402.4" x2="1127.6" y2="402.4" />
<line x1="55.4" y1="741.4" x2="65" y2="741.4" />
<line x1="1119" y1="741.4" x2="1127.6" y2="741.4" />
<line x1="55.4" y1="1080.3" x2="65" y2="1080.3" />
<line x1="1119" y1="1080.3" x2="1127.6" y2="1080.3" />
</g>
<g font-family='"Liberation Serif","Noto Serif CJK SC",serif' font-size="20" fill="#000">
<text x="148.3" y="31.8">70</text>
<text x="169.6" y="27.2" font-size="14">°</text>
<text x="187.4" y="31.8" textLength="10.6" lengthAdjust="spacingAndGlyphs">E</text>
<text x="148.3" y="1393.8">70</text>
<text x="169.6" y="1389.2" font-size="14">°</text>
<text x="187.4" y="1393.8" textLength="10.6" lengthAdjust="spacingAndGlyphs">E</text>
<text x="487.5" y="31.8">80</text>
<text x="508.8" y="27.2" font-size="14">°</text>
<text x="526.6" y="31.8" textLength="10.6" lengthAdjust="spacingAndGlyphs">E</text>
<text x="487.5" y="1393.8">80</text>
<text x="508.8" y="1389.2" font-size="14">°</text>
<text x="526.6" y="1393.8" textLength="10.6" lengthAdjust="spacingAndGlyphs">E</text>
<text x="826.6" y="31.8">90</text>
<text x="847.9" y="27.2" font-size="14">°</text>
<text x="865.7" y="31.8" textLength="10.6" lengthAdjust="spacingAndGlyphs">E</text>
<text x="826.6" y="1393.8">90</text>
<text x="847.9" y="1389.2" font-size="14">°</text>
<text x="865.7" y="1393.8" textLength="10.6" lengthAdjust="spacingAndGlyphs">E</text>
<text x="4.5" y="69.8">40</text>
<text x="25.8" y="65.2" font-size="14">°</text>
<text x="43.6" y="69.8" textLength="10.6" lengthAdjust="spacingAndGlyphs">N</text>
<text x="1128.7" y="69.8">40</text>
<text x="1150.0" y="65.2" font-size="14">°</text>
<text x="1167.8" y="69.8" textLength="10.6" lengthAdjust="spacingAndGlyphs">N</text>
<text x="4.5" y="408.7">30</text>
<text x="25.8" y="404.1" font-size="14">°</text>
<text x="43.6" y="408.7" textLength="10.6" lengthAdjust="spacingAndGlyphs">N</text>
<text x="1128.7" y="408.7">30</text>
<text x="1150.0" y="404.1" font-size="14">°</text>
<text x="1167.8" y="408.7" textLength="10.6" lengthAdjust="spacingAndGlyphs">N</text>
<text x="4.5" y="747.7">20</text>
<text x="25.8" y="743.1" font-size="14">°</text>
<text x="43.6" y="747.7" textLength="10.6" lengthAdjust="spacingAndGlyphs">N</text>
<text x="1128.7" y="747.7">20</text>
<text x="1150.0" y="743.1" font-size="14">°</text>
<text x="1167.8" y="747.7" textLength="10.6" lengthAdjust="spacingAndGlyphs">N</text>
<text x="4.5" y="1086.6">10</text>
<text x="25.8" y="1082.0" font-size="14">°</text>
<text x="43.6" y="1086.6" textLength="10.6" lengthAdjust="spacingAndGlyphs">N</text>
<text x="1128.7" y="1086.6">10</text>
<text x="1150.0" y="1082.0" font-size="14">°</text>
<text x="1167.8" y="1086.6" textLength="10.6" lengthAdjust="spacingAndGlyphs">N</text>
</g>
<text x="396.2" y="111.6" font-family='"Liberation Serif","Noto Serif CJK SC",serif' font-size="44.6" letter-spacing="1.97">印度平均气温距平</text>
<text x="777.5" y="110.4" font-family='"Liberation Serif","Noto Serif CJK SC",serif' font-size="45.7" letter-spacing="1.3">(℃)</text>
<text x="334.8" y="180.2" font-family='"Liberation Serif","Noto Serif CJK SC",serif' font-size="40">2024年05月01日</text>
<text x="614.8" y="180.2" font-family='"Liberation Serif","Noto Serif CJK SC",serif' font-size="40" textLength="20" lengthAdjust="spacingAndGlyphs">-</text>
<text x="634.8" y="180.2" font-family='"Liberation Serif","Noto Serif CJK SC",serif' font-size="40">2024年05月31日</text>
<text x="535.6" y="242.6" font-family='"Liberation Sans","Noto Sans CJK SC",sans-serif' font-size="39.4" font-weight="500" textLength="197.4" lengthAdjust="spacing">中央气象台</text>
<g transform="translate(80,50) scale(0.10152)" fill="url(#lg)">
<path d="M385 1000 A460 460 0 1 1 645 1030 C560 1050 470 1030 420 980 C375 930 350 880 355 830 C360 780 400 740 480 695 C560 650 650 620 685 575 C700 545 680 515 640 508 C590 500 530 530 500 570 C485 595 475 615 470 640 L400 570 C430 520 500 480 560 468 C650 445 750 445 805 495 C845 540 845 610 800 650 C760 685 680 705 620 745 C570 780 545 830 552 870 C560 920 640 945 730 918 C820 890 890 820 927 746 A400 400 0 1 0 218.6 777 C240 860 300 950 385 1000Z"/>
<path d="M390 350 C420 330 480 325 540 310 C585 285 615 245 640 195 C655 240 635 290 600 325 C660 315 705 285 735 250 C745 300 715 345 640 380 C620 395 610 410 600 425 C570 422 540 410 520 400 C480 395 440 395 415 385 C400 375 392 362 390 350Z"/>
<path d="M790 290 C812 340 808 410 752 452 L738 438 C775 400 792 350 790 290Z"/>
<path d="M180 477 C260 455 400 425 520 410 L562 426 C530 450 480 468 400 480 C360 492 320 510 295 547 C250 535 205 510 180 477Z"/>
</g>

<g stroke="#000" stroke-width="0.6" stroke-linejoin="miter">
<path d="M1046.7 77.4 L1040.3 108.7 L1046.9 114.5Z" fill="#fff"/>
<path d="M1046.7 77.4 L1053.5 108.4 L1046.9 114.5Z" fill="#000"/>
<path d="M1083.4 114.5 L1053.5 108.4 L1046.9 114.5Z" fill="#fff"/>
<path d="M1083.4 114.5 L1053.5 120.6 L1046.9 114.5Z" fill="#000"/>
<path d="M1046.9 151.5 L1053.5 120.6 L1046.9 114.5Z" fill="#fff"/>
<path d="M1046.9 151.5 L1040.8 120.6 L1046.9 114.5Z" fill="#000"/>
<path d="M1010.3 114.5 L1040.8 120.6 L1046.9 114.5Z" fill="#fff"/>
<path d="M1010.3 114.5 L1040.3 108.7 L1046.9 114.5Z" fill="#000"/>
</g>
<text x="1047" y="71.3" text-anchor="middle" font-family='"Liberation Serif",serif' font-size="17.5">N</text>

<text x="717.3" y="1085.5" text-anchor="middle" font-family='"Liberation Sans","Noto Sans CJK SC",sans-serif' font-size="26.5" font-weight="bold">图例</text>
<rect x="586.2" y="1105.4" width="54.6" height="26.6" fill="#5aaafa" stroke="#6e6e6e" stroke-width="1.4"/>
<text x="651.3" y="1124.2" font-family='"Liberation Sans","Noto Sans CJK SC",sans-serif' font-size="17" textLength="52.0" lengthAdjust="spacingAndGlyphs">-2 - -1</text>
<rect x="586.2" y="1142.9" width="54.6" height="26.6" fill="#aaf5fa" stroke="#6e6e6e" stroke-width="1.4"/>
<text x="651.3" y="1161.7" font-family='"Liberation Sans","Noto Sans CJK SC",sans-serif' font-size="17" textLength="46.0" lengthAdjust="spacingAndGlyphs">-1 - 0</text>
<rect x="586.2" y="1180.4" width="54.6" height="26.6" fill="#ffffbe" stroke="#6e6e6e" stroke-width="1.4"/>
<text x="656.3" y="1199.2" font-family='"Liberation Sans","Noto Sans CJK SC",sans-serif' font-size="17" textLength="38.5" lengthAdjust="spacingAndGlyphs">0 - 1</text>
<rect x="726.2" y="1105.4" width="54.6" height="26.6" fill="#ffd764" stroke="#6e6e6e" stroke-width="1.4"/>
<text x="796.8" y="1124.2" font-family='"Liberation Sans","Noto Sans CJK SC",sans-serif' font-size="17" textLength="39.5" lengthAdjust="spacingAndGlyphs">1 - 2</text>
<rect x="726.2" y="1142.9" width="54.6" height="26.6" fill="#ffa50a" stroke="#6e6e6e" stroke-width="1.4"/>
<text x="797.0" y="1161.7" font-family='"Liberation Sans","Noto Sans CJK SC",sans-serif' font-size="17" textLength="40.0" lengthAdjust="spacingAndGlyphs">2 - 4</text>
</svg></body></html>
